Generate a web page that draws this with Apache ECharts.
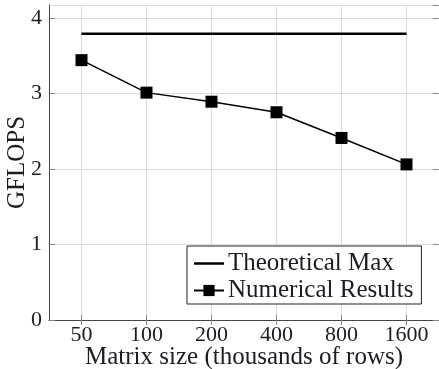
<!DOCTYPE html>
<html>
<head>
<meta charset="utf-8">
<script src="https://cdn.jsdelivr.net/npm/echarts@6/dist/echarts.min.js"></script>
<style>
  html, body { margin: 0; padding: 0; background: #fff; }
  #chart { width: 439px; height: 369px; }
</style>
</head>
<body>
<div id="chart"></div>
<script>
// 矩阵规模（千行）
var matrixSizes = ['50', '100', '200', '400', '800', '1600']
// 理论峰值
var theoreticalMax = [3.79, 3.79, 3.79, 3.79, 3.79, 3.79]
// 实测结果
var numericalResults = [3.44, 3.01, 2.89, 2.75, 2.41, 2.06]

var serifFont = '"Liberation Serif", "Times New Roman", serif'
var textColor = '#1c1c24'

var chart = echarts.init(document.getElementById('chart'))

chart.setOption({
  backgroundColor: '#fff',
  animation: false,
  grid: {
    left: 49,
    top: 5,
    width: 390,
    height: 315,
    containLabel: false,
    outerBoundsMode: 'none'
  },
  legend: {
    left: 187,
    top: 246,
    orient: 'vertical',
    itemWidth: 30,
    itemHeight: 14,
    itemGap: 2,
    padding: [5, 8, 1, 6],
    backgroundColor: '#fff',
    borderColor: '#222',
    borderWidth: 1,
    borderRadius: 0,
    textStyle: {
      fontFamily: serifFont,
      fontSize: 25,
      color: textColor,
      padding: [0, 0, 0, -1]
    },
    data: [
      { name: 'Theoretical Max', icon: 'path://M0,0 L30,0 L30,2.5 L0,2.5 Z' },
      'Numerical Results'
    ]
  },
  xAxis: [{
    type: 'category',
    data: matrixSizes,
    boundaryGap: true,
    name: 'Matrix size (thousands of rows)',
    nameLocation: 'middle',
    nameGap: 25,
    nameMoveOverlap: false,
    nameTextStyle: { fontFamily: serifFont, fontSize: 25, color: textColor },
    axisLine: { lineStyle: { color: '#444', width: 1 } },
    axisTick: { show: true, inside: true, alignWithLabel: true, length: 5, lineStyle: { color: '#888' } },
    axisLabel: { fontFamily: serifFont, fontSize: 22, color: textColor, margin: 4 },
    splitLine: { show: true, alignWithLabel: true, lineStyle: { color: '#dcdcdc', width: 1 } }
  }, {
    type: 'category',
    data: matrixSizes,
    position: 'top',
    boundaryGap: true,
    axisLine: { lineStyle: { color: '#444', width: 1 } },
    axisTick: { show: true, inside: true, alignWithLabel: true, length: 5, lineStyle: { color: '#888' } },
    axisLabel: { show: false },
    splitLine: { show: false }
  }],
  yAxis: [{
    type: 'value',
    min: 0,
    max: 4.17,
    interval: 1,
    name: 'GFLOPS',
    nameLocation: 'middle',
    nameGap: 19,
    nameMoveOverlap: false,
    nameTextStyle: { fontFamily: serifFont, fontSize: 25, color: textColor },
    axisLine: { show: true, lineStyle: { color: '#444', width: 1 } },
    axisTick: { show: true, inside: true, length: 6, lineStyle: { color: '#888' } },
    axisLabel: { fontFamily: serifFont, fontSize: 22, color: textColor, margin: 7, showMaxLabel: false },
    splitLine: { show: true, lineStyle: { color: '#dcdcdc', width: 1 } }
  }, {
    type: 'value',
    min: 0,
    max: 4.17,
    interval: 1,
    position: 'right',
    axisLine: { show: true, lineStyle: { color: '#444', width: 1 } },
    axisTick: { show: true, inside: true, length: 6, lineStyle: { color: '#888' } },
    axisLabel: { show: false },
    splitLine: { show: false }
  }],
  series: [{
    name: 'Theoretical Max',
    type: 'line',
    symbol: 'none',
    lineStyle: { color: '#000', width: 2.5 },
    itemStyle: { color: '#000' },
    data: theoreticalMax
  }, {
    name: 'Numerical Results',
    type: 'line',
    symbol: 'rect',
    symbolSize: 12,
    lineStyle: { color: '#000', width: 1.5 },
    itemStyle: { color: '#000' },
    data: numericalResults
  }]
})
</script>
</body>
</html>
